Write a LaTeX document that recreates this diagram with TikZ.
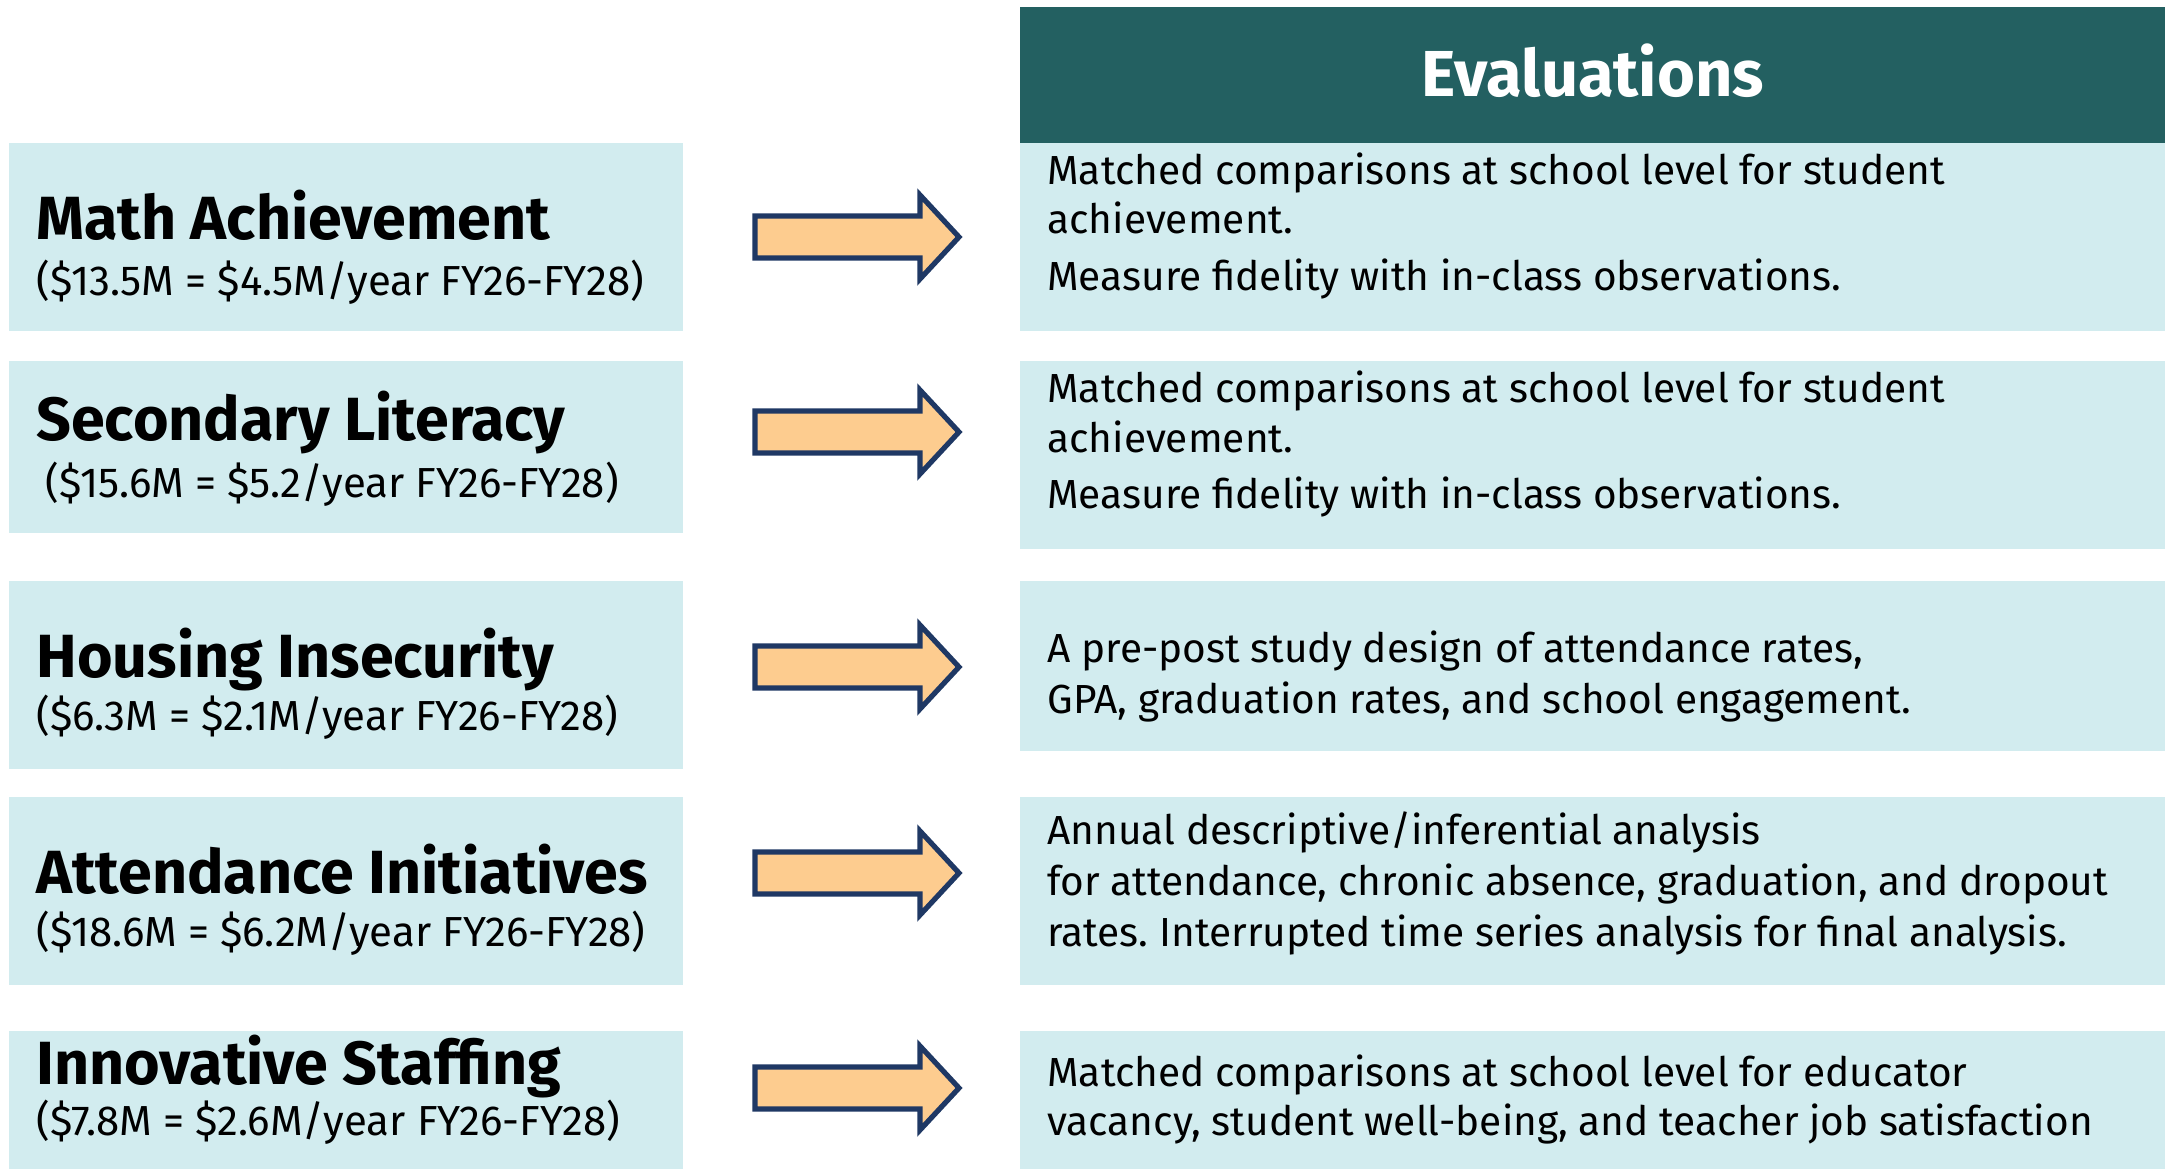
\documentclass[tikz,border=0pt]{standalone}
\usepackage{fontspec}
\setmainfont{Fira Sans}
\usepackage{xcolor}
\usepackage{tikz}
\usetikzlibrary{positioning}

\definecolor{headteal}{RGB}{35,96,97}
\definecolor{boxblue}{RGB}{210,236,239}
\definecolor{arrowfill}{RGB}{253,204,143}
\definecolor{arrownavy}{RGB}{31,56,100}

\tikzset{
  panel/.style={fill=boxblue, draw=none},
  blockarrow/.style={fill=arrowfill, draw=arrownavy, line width=2.6pt, line join=miter},
  progtitle/.style={anchor=base west, inner sep=0pt, font=\fontsize{30.5}{36}\selectfont\bfseries},
  progcost/.style={anchor=base west, inner sep=0pt, font=\fontsize{21}{25}\selectfont},
  evaltext/.style={anchor=base west, inner sep=0pt, font=\fontsize{20.3}{24}\selectfont}
}

\begin{document}
\frenchspacing
\begin{tikzpicture}[x=0.5pt,y=0.5pt,yscale=-1,xscale=1]
\useasboundingbox (0,0) rectangle (2165,1169);

%Shape: Rectangle (left panels)
\fill[panel] (9,143) rectangle (683,331);
\fill[panel] (9,361) rectangle (683,533);
\fill[panel] (9,581) rectangle (683,769);
\fill[panel] (9,797) rectangle (683,985);
\fill[panel] (9,1031) rectangle (683,1169);
%Shape: Rectangle (header)
\fill[headteal] (1020,7) rectangle (2165,143);
%Shape: Rectangle (right panels)
\fill[panel] (1020,143) rectangle (2165,331);
\fill[panel] (1020,361) rectangle (2165,549);
\fill[panel] (1020,581) rectangle (2165,751);
\fill[panel] (1020,797) rectangle (2165,985);
\fill[panel] (1020,1031) rectangle (2165,1169);

%Shape: Right Arrow
\draw[blockarrow, shift={(858,237)}] (-103,-21) -- (62,-21) -- (62,-42) -- (101,0) -- (62,42) -- (62,21) -- (-103,21) -- cycle;
\draw[blockarrow, shift={(858,432)}] (-103,-21) -- (62,-21) -- (62,-42) -- (101,0) -- (62,42) -- (62,21) -- (-103,21) -- cycle;
\draw[blockarrow, shift={(858,667)}] (-103,-21) -- (62,-21) -- (62,-42) -- (101,0) -- (62,42) -- (62,21) -- (-103,21) -- cycle;
\draw[blockarrow, shift={(858,873)}] (-103,-21) -- (62,-21) -- (62,-42) -- (101,0) -- (62,42) -- (62,21) -- (-103,21) -- cycle;
\draw[blockarrow, shift={(858,1088)}] (-103,-21) -- (62,-21) -- (62,-42) -- (101,0) -- (62,42) -- (62,21) -- (-103,21) -- cycle;

% Text Node
\node[anchor=base, inner sep=0pt, text=white, font=\fontsize{32.5}{38}\selectfont\bfseries] (evalhead) at (1593,96) {Evaluations};

% Text Node
\node[progtitle] (mathT) at (36,239) {Math Achievement};
\node[progcost] (mathC) at (36,295) {(\$13.5M = \$4.5M/year FY26-FY28)};
% Text Node
\node[progtitle] (litT) at (36,440) {Secondary Literacy};
\node[progcost] (litC) at (45,497) {(\$15.6M = \$5.2/year FY26-FY28)};
% Text Node
\node[progtitle] (houseT) at (36,677) {Housing Insecurity};
\node[progcost] (houseC) at (36,730) {(\$6.3M = \$2.1M/year FY26-FY28)};
% Text Node
\node[progtitle] (attT) at (36,893) {Attendance Initiatives};
\node[progcost] (attC) at (36,946) {(\$18.6M = \$6.2M/year FY26-FY28)};
% Text Node
\node[progtitle] (staffT) at (36,1084) {Innovative Staffing};
\node[progcost] (staffC) at (36,1135) {(\$7.8M = \$2.6M/year FY26-FY28)};

% Text Node
\node[evaltext] (mathEa) at (1047,184) {Matched comparisons at school level for student};
\node[evaltext] (mathEb) at (1047,233) {achievement.};
\node[evaltext] (mathEc) at (1047,290) {Measure fidelity with in-class observations.};
% Text Node
\node[evaltext] (litEa) at (1047,402) {Matched comparisons at school level for student};
\node[evaltext] (litEb) at (1047,452) {achievement.};
\node[evaltext] (litEc) at (1047,508) {Measure fidelity with in-class observations.};
% Text Node
\node[evaltext] (houseEa) at (1047,662) {A pre-post study design of attendance rates,};
\node[evaltext] (houseEb) at (1047,713) {GPA, graduation rates, and school engagement.};
% Text Node
\node[evaltext] (attEa) at (1047,844) {Annual descriptive/inferential analysis};
\node[evaltext] (attEb) at (1047,895) {for attendance, chronic absence, graduation, and dropout};
\node[evaltext] (attEc) at (1047,946) {rates. Interrupted time series analysis for final analysis.};
% Text Node
\node[evaltext] (staffEa) at (1047,1086) {Matched comparisons at school level for educator};
\node[evaltext] (staffEb) at (1047,1135) {vacancy, student well-being, and teacher job satisfaction};

\end{tikzpicture}
\end{document}
